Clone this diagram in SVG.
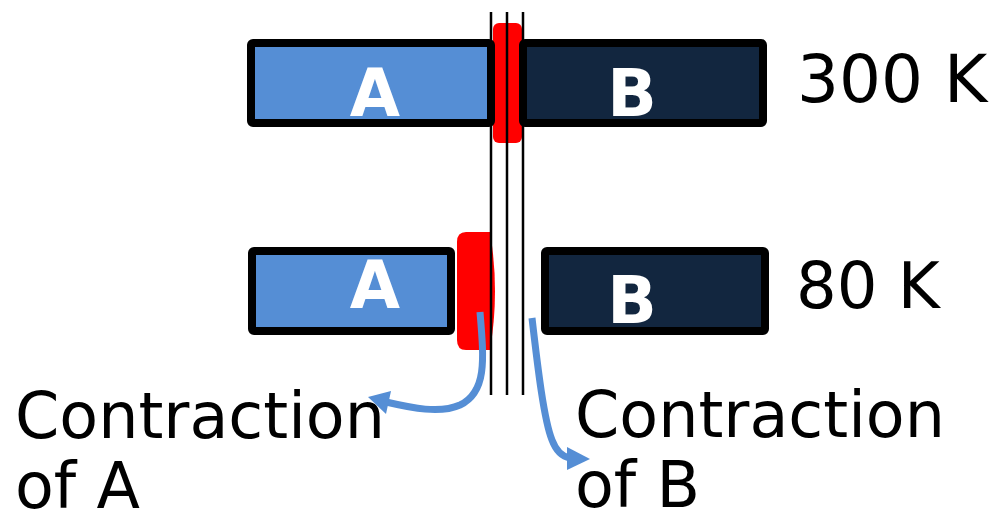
<svg xmlns="http://www.w3.org/2000/svg" width="994" height="517" viewBox="0 0 994 517">
<style>
.box{stroke:#000;stroke-width:8;stroke-linejoin:round}
.a{fill:#558ED5}
.b{fill:#12263F}
.lbl{font-family:"DejaVu Sans",Verdana,sans-serif;font-weight:bold;font-size:65px;fill:#fff;text-anchor:middle}
.txt{font-family:"DejaVu Sans",Verdana,sans-serif;fill:#000}
.rail{stroke:#000;stroke-width:2.5}
.arr{fill:none;stroke:#558ED5;stroke-width:7}
.head{fill:#558ED5}
</style>
<rect width="994" height="517" fill="#fff"/>
<g id="red-top"><rect x="493" y="23" width="29" height="120" rx="6" fill="#FF0000"/></g>
<g id="red-bottom"><path d="M466,232 H490 Q500,291 490,350 H466 Q457,350 457,340 V242 Q457,232 466,232 Z" fill="#FF0000"/></g>
<g id="A-300"><rect class="box a" x="251" y="43" width="240" height="80" rx="2"/><text class="lbl" x="375" y="116">A</text></g>
<g id="B-300"><rect class="box b" x="523" y="43" width="240" height="80" rx="2"/><text class="lbl" x="632" y="116">B</text></g>
<g id="A-80"><rect class="box a" x="252" y="251" width="199" height="80" rx="2"/><text class="lbl" x="375" y="308">A</text></g>
<g id="B-80"><rect class="box b" x="545" y="251" width="220" height="80" rx="2"/><text class="lbl" x="632" y="323">B</text></g>
<g id="rails">
<line class="rail" x1="491" y1="12" x2="491" y2="395"/>
<line class="rail" x1="507" y1="12" x2="507" y2="395"/>
<line class="rail" x1="523" y1="12" x2="523" y2="395"/>
</g>
<g id="connectors">
<path class="arr" d="M480,312 C484,360 487,392 460,405 C440,414 412,408 386,402"/>
<polygon class="head" points="368,397 391,391 386,414"/>
<path class="arr" d="M532,318 C538,370 544,420 552,440 Q558,456 570,458"/>
<polygon class="head" points="590,459 567,447 567,470"/>
</g>
<g id="labels">
<text class="txt" x="797" y="102" font-size="66">300 K</text>
<text class="txt" x="796" y="308" font-size="64">80 K</text>
<text class="txt" x="15" y="438" font-size="63.5">Contraction</text>
<text class="txt" x="15" y="508" font-size="63.5">of A</text>
<text class="txt" x="575" y="437" font-size="63.5">Contraction</text>
<text class="txt" x="575" y="507" font-size="63.5">of B</text>
</g>
</svg>
